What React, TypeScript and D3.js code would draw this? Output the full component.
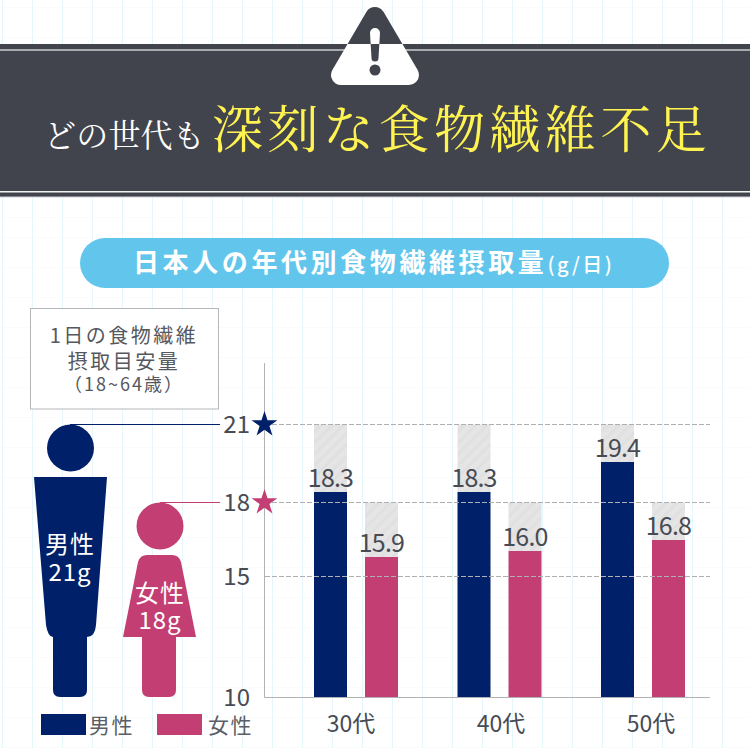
import React from 'react';
import * as d3 from 'd3';

const ageGroups = ['30代', '40代', '50代'];
const sexes = ['男性', '女性'];
const maleValues = [18.3, 18.3, 19.4];
const femaleValues = [15.9, 16.0, 16.8];
const targets = [21, 18];
const dashedTicks = [21, 18, 15];
const axisTicks = [21, 18, 15, 10];
const boxLines = ['1日の食物繊維', '摂取目安量', '（18~64歳）'];

// the axis in the picture is not to scale, so every value read off it gets its own knot
const axisDomain = [10, 15, 15.9, 16, 16.8, 18, 18.3, 19.4, 21];
const axisRange = [697, 576.5, 557, 551, 540, 502.5, 492, 462, 424.5];

const NAVY = '#00206a';
const PINK = '#c33f73';
const DARK = '#41444d';
const TEXT = '#484b53';
const SANS = '"Noto Sans CJK JP", "Noto Sans", sans-serif';
const MINCHO = '"Noto Serif CJK JP", "Noto Sans CJK JP", serif';

const range = (a: number, b: number, step: number) => d3.range(a, b, step);

export default function App() {
  const y = d3.scaleLinear().domain(axisDomain).range(axisRange);
  const x0 = d3.scaleBand().domain(ageGroups).range([314, 685]).paddingInner(1 - 84 / 143.5);
  const x1 = d3.scaleBand().domain(sexes).range([0, 84]).paddingInner(18 / 51);
  const xLabel = d3.scalePoint().domain(ageGroups).range([351, 651]);
  const star = d3.symbol().type(d3.symbolStar).size(205)();

  const triangle = 'M375,17 L341,75 L409,75 Z';
  const mark = (
    <>
      <path d="M370,33 a5,5 0 0 1 10,0 L378.5,58 a3.5,3.5 0 0 1 -7,0 Z" />
      <circle cx={375} cy={70} r={5.5} />
    </>
  );

  // figures
  const maleBody = 'M34,477 H107 L96,625 Q95,637 87,637 V690 Q87,697 80,697 H60 Q53,697 53,690 V637 Q48,637 46,625 Z';
  const femaleBody = 'M147,555 H172 Q179,555 181,562 L196,637 H176 V690 Q176,697 169,697 H149 Q142,697 142,690 V637 H123 L138,562 Q140,555 147,555 Z';

  return (
    <svg width={750} height={748} style={{ position: 'absolute', left: 0, top: 0, background: '#fff' }} fontFamily={SANS}>
      <defs>
        <pattern id="hatch" width={8} height={8} patternUnits="userSpaceOnUse" patternTransform="rotate(45)">
          <rect width={8} height={8} fill="#e5e5e5" />
          <rect width={3} height={8} fill="#e0e0e0" />
        </pattern>
        <clipPath id="above"><rect x={300} y={0} width={150} height={44} /></clipPath>
        <clipPath id="below"><rect x={300} y={44} width={150} height={60} /></clipPath>
      </defs>

      {/* background grid */}
      <g>
        {range(237.5, 748, 30).map(v => <line key={v} x1={0} x2={750} y1={v} y2={v} stroke="#fafbfb" />)}
        {range(7.5, 237, 30).map(v => <line key={v} x1={0} x2={750} y1={v} y2={v} stroke="#fafbfb" />)}
        {range(2.5, 750, 30).map(v => <line key={v} x1={v} x2={v} y1={0} y2={748} stroke="#e6f7fc" />)}
      </g>

      {/* header band */}
      <rect x={0} y={44} width={750} height={153} fill={DARK} />
      <rect x={0} y={49} width={750} height={2} fill="#a9aaae" />
      <rect x={0} y={191} width={750} height={1.5} fill="#f2f2f2" />
      <rect x={0} y={196.5} width={750} height={1} fill="#d0d1d3" />

      <g clipPath="url(#above)">
        <path d={triangle} fill={DARK} stroke={DARK} strokeWidth={20} strokeLinejoin="round" />
        <g fill="#fff">{mark}</g>
      </g>
      <g clipPath="url(#below)">
        <path d={triangle} fill="#fff" stroke="#fff" strokeWidth={20} strokeLinejoin="round" />
        <g fill={DARK}>{mark}</g>
      </g>

      <text x={44} y={147} fontFamily={MINCHO} fontSize={32} letterSpacing={0.2} fill="#fff" fontWeight={400}>どの世代も</text>
      <text x={212} y={148} fontFamily={MINCHO} fontSize={51} letterSpacing={4.5} fill="#fff352" fontWeight={400}>深刻な食物繊維不足</text>

      {/* pill title */}
      <rect x={80} y={238} width={589} height={50} rx={25} fill="#62c6ec" />
      <text x={133} y={272} fontSize={26} letterSpacing={3.6} fontWeight={700} fill="#fff">
        日本人の年代別食物繊維摂取量
        <tspan fontSize={20} fontWeight={500} letterSpacing={2.5}>(g/日)</tspan>
      </text>

      {/* box */}
      <rect x={30.5} y={308.5} width={188} height={100.5} fill="#fff" stroke="#b5b7ba" />
      {boxLines.map((t, i) => (
        <text key={t} x={124} y={[343, 369, 391][i]} textAnchor="middle" fontSize={i === 2 ? 18 : 20}
          letterSpacing={i === 2 ? 2 : 2.5} fontWeight={400} fill="#55585f">{t}</text>
      ))}

      {/* figures */}
      <line x1={70} x2={220} y1={y(21)} y2={y(21)} stroke={NAVY} strokeWidth={1} />
      <line x1={160} x2={220} y1={y(18)} y2={y(18)} stroke={PINK} strokeWidth={1} />
      <circle cx={70.5} cy={y(21) + 23.5} r={23.5} fill={NAVY} />
      <path d={maleBody} fill={NAVY} />
      <circle cx={160} cy={y(18) + 23.5} r={23.5} fill={PINK} />
      <path d={femaleBody} fill={PINK} />
      <text x={70} y={553} textAnchor="middle" fontSize={24} letterSpacing={1} fill="#fff" fontWeight={400}>男性</text>
      <text x={70} y={581} textAnchor="middle" fontSize={24} letterSpacing={1} fill="#fff" fontWeight={400}>21g</text>
      <text x={160} y={602} textAnchor="middle" fontSize={24} letterSpacing={1} fill="#fff" fontWeight={400}>女性</text>
      <text x={160} y={629} textAnchor="middle" fontSize={24} letterSpacing={1} fill="#fff" fontWeight={400}>18g</text>

      {/* legend */}
      <rect x={41} y={714} width={45} height={21} fill={NAVY} />
      <text x={89} y={733} fontSize={21} letterSpacing={1.5} fontWeight={400} fill="#5b5e66">男性</text>
      <rect x={157} y={714} width={45} height={21} fill={PINK} />
      <text x={208} y={733} fontSize={21} letterSpacing={1.5} fontWeight={400} fill="#5b5e66">女性</text>

      {/* bars */}
      {ageGroups.map((g, i) => (
        <g key={g} transform={`translate(${x0(g)},0)`}>
          {[maleValues[i], femaleValues[i]].map((v, j) => {
            const bx = x1(sexes[j])!;
            const w = x1.bandwidth();
            return (
              <g key={sexes[j]}>
                <rect x={bx} y={y(targets[j])} width={w} height={y(v) - y(targets[j])} fill="url(#hatch)" />
                <rect x={bx} y={y(v)} width={w} height={y(10) - y(v)} fill={j === 0 ? NAVY : PINK} />
              </g>
            );
          })}
        </g>
      ))}

      {/* axis */}
      {dashedTicks.map(t => (
        <line key={t} x1={265} x2={710} y1={y(t)} y2={y(t)} stroke="#adafb2" strokeDasharray="5 2" />
      ))}
      <path d="M264.5,363 V697.5 H710" fill="none" stroke="#b0b2b5" />
      {axisTicks.map(t => (
        <text key={t} x={250} y={y(t)} dy="0.36em" textAnchor="end" fontSize={24} fontWeight={400} fill={TEXT}>{t}</text>
      ))}
      <path d={star!} transform={`translate(264.5,${y(21)})`} fill={NAVY} />
      <path d={star!} transform={`translate(264.5,${y(18)})`} fill={PINK} />

      {/* value labels */}
      {ageGroups.map((g, i) => (
        <g key={g} transform={`translate(${x0(g)},0)`}>
          {[maleValues[i], femaleValues[i]].map((v, j) => (
            <text key={j} x={x1(sexes[j])! + x1.bandwidth() / 2} y={y(v) - 5} textAnchor="middle"
              fontSize={25} fontWeight={400} letterSpacing={-0.8} fill={TEXT}>{v.toFixed(1)}</text>
          ))}
        </g>
      ))}

      {ageGroups.map(g => (
        <text key={g} x={xLabel(g)} y={732} textAnchor="middle" fontSize={23} fontWeight={400} fill={TEXT}>{g}</text>
      ))}
    </svg>
  );
}
